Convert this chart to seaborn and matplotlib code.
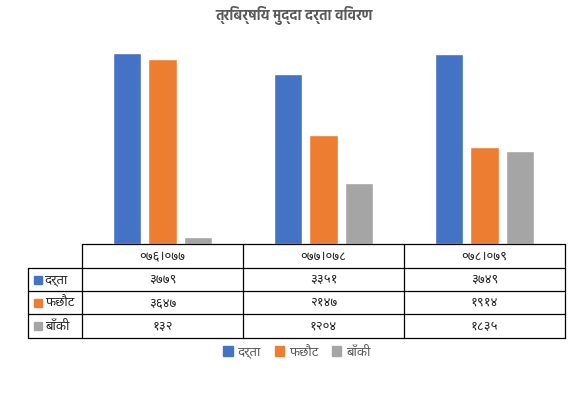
import matplotlib
matplotlib.use("Agg")
import matplotlib.pyplot as plt
import seaborn as sns
import pandas as pd
from matplotlib import font_manager
from matplotlib.patches import Rectangle
from matplotlib.lines import Line2D

# ---------------- data ----------------
title = "त्रिबर्षिय मुद्दा दर्ता विवरण"
categories = ["०७६।०७७", "०७७।०७८", "०७८।०७९"]
series_names = ["दर्ता", "फछौट", "बाँकी"]
darta = [3779, 3351, 3749]
fachhaut = [3647, 2147, 1914]
baki = [132, 1204, 1835]
darta_labels = ["३७७९", "३३५१", "३७४९"]
fachhaut_labels = ["३६४७", "२१४७", "१९१४"]
baki_labels = ["१३२", "१२०४", "१८३५"]
colors = ["#4472C4", "#ED7D31", "#A5A5A5"]

# ---------------- font ----------------
entries = font_manager.fontManager.ttflist
installed = {f.name for f in entries}
cands = ["Noto Sans Devanagari", "Hind", "Mukta", "Poppins"]
fam = [n for n in cands if n in installed][:1] + ["DejaVu Sans"]
bold_fams = [n for n in cands
             if any(f.name == n and isinstance(f.weight, int) and f.weight >= 600 for f in entries)]
title_fam = (bold_fams[:1] if bold_fams else fam[:1]) + ["DejaVu Sans"]

sns.set_theme(style="white")
plt.rcParams["font.family"] = fam

df = pd.DataFrame({
    "cat": categories * 3,
    "series": sum([[s] * 3 for s in series_names], []),
    "val": darta + fachhaut + baki,
})

W, H = 588, 397
fig = plt.figure(figsize=(W / 100, H / 100), dpi=100)
ax_left, ax_right, ax_top, ax_bot = 82, 565, 41.6, 244
ax = fig.add_axes([ax_left / W, 1 - ax_bot / H, (ax_right - ax_left) / W, (ax_bot - ax_top) / H])
sns.barplot(data=df, x="cat", y="val", hue="series", palette=colors,
            width=0.67, gap=0.22, ax=ax, legend=False, saturation=1)
ax.set_xlim(-0.5, 2.5)
ax.set_ylim(0, 4000)
ax.axis("off")

# ---------------- title ----------------
fig.text(0.5, 1 - 15.5 / H, title, ha="center", va="center", fontsize=10,
         fontweight="bold", color="#595959", family=title_fam)

# ---------------- table ----------------
def fx(px):
    return px / W

def fy(py):
    return 1 - py / H

cols = [28, 82, 243, 404, 565]
rows = [244, 268, 291, 314, 338]
lc = "black"
lw = 0.9
def hline(y, x0, x1):
    fig.add_artist(Line2D([fx(x0), fx(x1)], [fy(y), fy(y)], color=lc, lw=lw, transform=fig.transFigure))
def vline(x, y0, y1):
    fig.add_artist(Line2D([fx(x), fx(x)], [fy(y0), fy(y1)], color=lc, lw=lw, transform=fig.transFigure))

hline(rows[0], cols[1], cols[-1])
for r in rows[1:]:
    hline(r, cols[0], cols[-1])
vline(cols[0], rows[1], rows[-1])
for c in cols[1:]:
    vline(c, rows[0], rows[-1])

for i, cat in enumerate(categories):
    cx = (cols[i + 1] + cols[i + 2]) / 2
    fig.text(fx(cx), fy((rows[0] + rows[1]) / 2), cat, ha="center", va="center",
             fontsize=9.5, color="#262626", family=fam)

value_rows = [darta_labels, fachhaut_labels, baki_labels]
for j, (name, labs) in enumerate(zip(series_names, value_rows)):
    cy = (rows[j + 1] + rows[j + 2]) / 2
    fig.add_artist(Rectangle((fx(34), fy(cy + 4)), fx(8), 8 / H, color=colors[j],
                             transform=fig.transFigure))
    fig.text(fx(45), fy(cy), name, ha="left", va="center", fontsize=9.5,
             color="#262626", family=fam)
    for i, lab in enumerate(labs):
        cx = (cols[i + 1] + cols[i + 2]) / 2
        fig.text(fx(cx), fy(cy), lab, ha="center", va="center", fontsize=9.5,
                 color="#262626", family=fam)

# ---------------- legend ----------------
handles = [Rectangle((0, 0), 1, 1, color=c) for c in colors]
fig.legend(handles, series_names, loc="center", bbox_to_anchor=(fx(297), fy(352)),
           ncol=3, frameon=False, handlelength=0.7, handleheight=0.7,
           handletextpad=0.4, columnspacing=1.0, prop={"family": fam, "size": 9.5},
           labelcolor="#595959")

fig.savefig("out.png", dpi=100, facecolor="white")
